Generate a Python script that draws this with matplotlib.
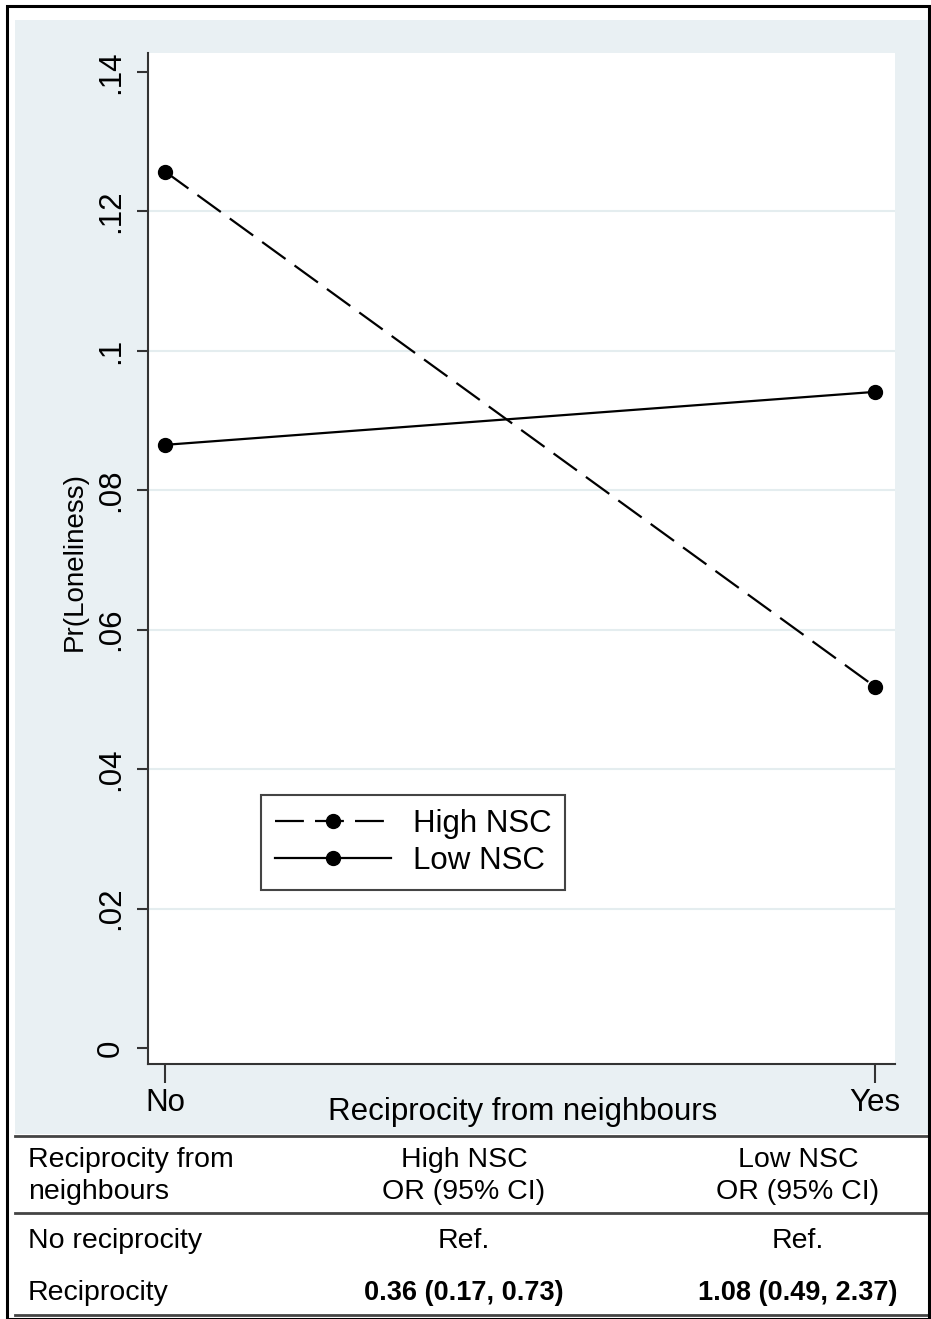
import matplotlib
matplotlib.use("Agg")
import matplotlib.pyplot as plt
from matplotlib.patches import Rectangle
from matplotlib.lines import Line2D

#### Données ####
categories = ["No", "Yes"]
high_nsc = [0.1257, 0.0518]
low_nsc = [0.0865, 0.0941]
yticks = [0, 0.02, 0.04, 0.06, 0.08, 0.10, 0.12, 0.14]
ytick_labels = ["0", ".02", ".04", ".06", ".08", ".1", ".12", ".14"]

table_header = [["Reciprocity from\nneighbours", "High NSC\nOR (95% CI)", "Low NSC\nOR (95% CI)"]]
table_rows = [["No reciprocity", "Ref.", "Ref."],
              ["Reciprocity", "0.36 (0.17, 0.73)", "1.08 (0.49, 2.37)"]]

W, H = 931, 1319
plt.rcParams['font.family'] = ['Liberation Sans', 'DejaVu Sans']
fig = plt.figure(figsize=(W/100, H/100), dpi=100)

def fx(px):
    return px/W
def fy(py):
    return 1 - py/H

bg = "#e9f0f3"
# fond bleu Stata + cadre noir
fig.patches.append(Rectangle((fx(15), fy(1134)), fx(931-15), (1134-20)/H,
                             transform=fig.transFigure, facecolor=bg, edgecolor="none", zorder=-10))
fig.patches.append(Rectangle((fx(7), fy(1319)), fx(929-7), (1319-6)/H,
                             transform=fig.transFigure, facecolor="none", edgecolor="black",
                             linewidth=2.2, zorder=10))

ax = fig.add_axes([fx(148), fy(1064), fx(895-148), (1064-53)/H])
ax.set_facecolor("white")
x = [0, 1]
ax.plot(x, high_nsc, color="black", linewidth=1.6, dashes=(13, 5),
        marker="o", markersize=10, label="High NSC", zorder=3)
ax.plot(x, low_nsc, color="black", linewidth=1.6, linestyle="-",
        marker="o", markersize=10, label="Low NSC", zorder=3)

ax.set_xlim(-0.024, 1.028)
ax.set_ylim(-0.0023, 0.1427)
ax.set_yticks(yticks)
ax.set_yticklabels(ytick_labels, rotation=90, va="center", fontsize=22.5)
ax.set_xticks(x)
ax.set_xticklabels(categories, fontsize=22.5)
for t in yticks[1:-1]:
    ax.axhline(t, color="#e4edef", linewidth=1.5, zorder=1)
for s in ["top", "right"]:
    ax.spines[s].set_visible(False)
for s in ["left", "bottom"]:
    ax.spines[s].set_color("#333333")
    ax.spines[s].set_linewidth(1.5)
ax.tick_params(axis="y", length=8, width=1.5, color="#333333", pad=8)
ax.tick_params(axis="x", length=14, width=1.5, color="#333333", pad=3)
ax.set_ylabel("Pr(Loneliness)", fontsize=20, va="center")
ax.yaxis.set_label_coords(-0.098, 0.497)
fig.text(fx(523), fy(1112), "Reciprocity from neighbours", fontsize=22.5,
         ha="center", va="center")

leg_handles = [Line2D([], [], color="black", linewidth=1.6, dashes=(13, 5), marker="o", markersize=10),
               Line2D([], [], color="black", linewidth=1.6, marker="o", markersize=10)]
leg = ax.legend(leg_handles, ["High NSC", "Low NSC"], loc="lower left",
                bbox_to_anchor=(fx(261), fy(890)), bbox_transform=fig.transFigure,
                fontsize=22.5, handlelength=3.7, labelspacing=0.22, borderpad=0.45,
                borderaxespad=0, handletextpad=0.7, fancybox=False, framealpha=1,
                edgecolor="#444444")
leg.get_frame().set_linewidth(1.5)

#### Tableau ####
for yl in [1136, 1213, 1315]:
    fig.add_artist(Line2D([fx(15), fx(931)], [fy(yl), fy(yl)], transform=fig.transFigure,
                          color="#444444", linewidth=2))
col_x = [28, 464, 798]
hdr_y = [1160, 1192]
for j, txt in enumerate(table_header[0]):
    lines = txt.split("\n")
    for k, ln in enumerate(lines):
        fig.text(fx(col_x[j]), fy(hdr_y[k]), ln, fontsize=20.5,
                 ha="left" if j == 0 else "center", va="center")
row_y = [1241, 1293]
for i, row in enumerate(table_rows):
    for j, txt in enumerate(row):
        bold = (i == 1 and j > 0)
        fig.text(fx(col_x[j]), fy(row_y[i]), txt, fontsize=19.5 if bold else 20.5,
                 fontweight="bold" if bold else "normal",
                 ha="left" if j == 0 else "center", va="center")

fig.savefig("out.png", dpi=100)
